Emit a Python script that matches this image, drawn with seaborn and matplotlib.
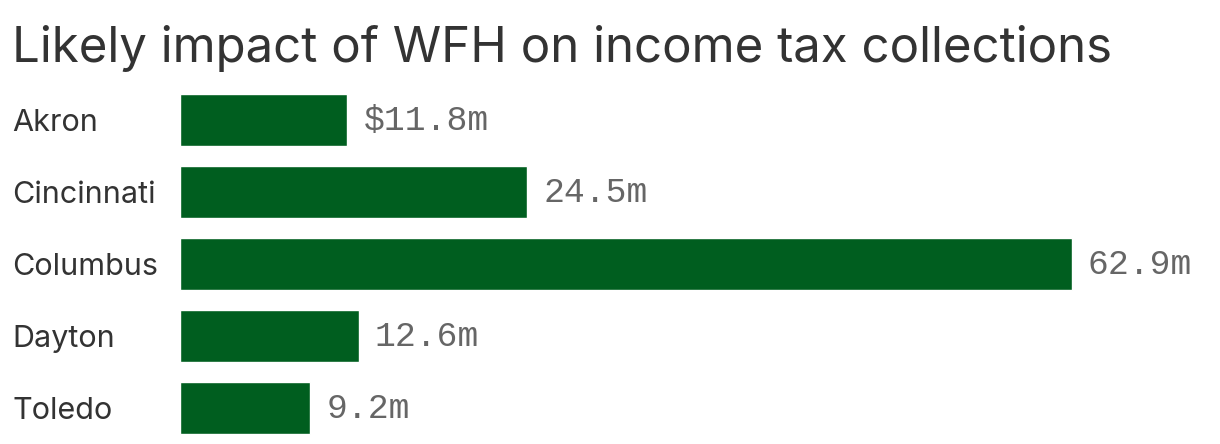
import matplotlib
matplotlib.use("Agg")
import matplotlib.pyplot as plt
import seaborn as sns
import pandas as pd

cities = ["Akron", "Cincinnati", "Columbus", "Dayton", "Toledo"]
impact = [11.8, 24.5, 62.9, 12.6, 9.2]
value_labels = ["$11.8m", "24.5m", "62.9m", "12.6m", "9.2m"]
title = "Likely impact of WFH on income tax collections"

sns.set_theme(style="white")
plt.rcParams["font.family"] = ["Inter", "DejaVu Sans"]

W, H = 1220, 444
fig = plt.figure(figsize=(W / 100, H / 100), dpi=100)
ax = fig.add_axes([180 / W, 0.0, 1 - 180 / W, 1 - 84 / H])

df = pd.DataFrame({"city": cities, "impact": impact})
sns.barplot(data=df, x="impact", y="city", orient="h", color="#005e1f",
            saturation=1, width=0.71, ax=ax)

ax.set_xlim(0, (W - 180) / ((1072 - 180) / 62.9))
ax.set_xlabel("")
ax.set_ylabel("")
ax.set_xticks([])
for s in ax.spines.values():
    s.set_visible(False)

ax.tick_params(axis="y", length=0, pad=168 * 0.72)
for lab in ax.get_yticklabels():
    lab.set_ha("left")
    lab.set_fontsize(22)
    lab.set_color("#333333")

ax.bar_label(ax.containers[0], labels=value_labels, padding=16 * 0.72,
             fontsize=25, color="#666666", family=["Liberation Mono"])

fig.text(12 / W, 1 - 62 / H, title, fontsize=35.4, color="#333333",
         ha="left", va="baseline")

fig.savefig("out.png", dpi=100, facecolor="white")
